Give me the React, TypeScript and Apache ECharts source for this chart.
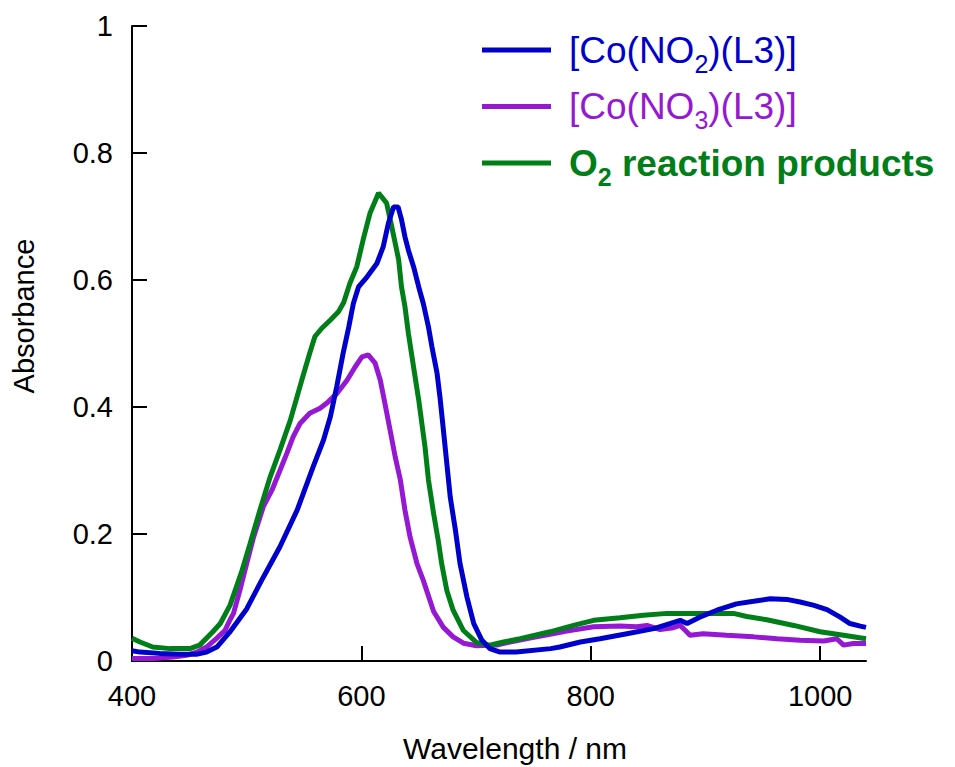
import React, { useEffect, useRef } from 'react';
import * as echarts from 'echarts';

const FONT = "'Liberation Sans', Arial, Helvetica, sans-serif";
const BLUE = '#0000CC';
const PURPLE = '#9519D3';
const GREEN = '#007F19';

const NAME_BLUE = '[Co(NO2)(L3)]';
const NAME_PURPLE = '[Co(NO3)(L3)]';
const NAME_GREEN = 'O2 reaction products';

const xTickValues = [400, 600, 800, 1000];
const yTickValues = [0, 0.2, 0.4, 0.6, 0.8, 1];

// [Co(NO2)(L3)]
const blueNm = [400, 407, 424, 442, 456, 465, 474, 485, 500, 514.5, 529, 544, 558, 567, 573, 578.5, 584, 589, 593, 597.5, 605, 613.5, 619, 623.5, 628, 632, 635, 638, 641, 645.5, 650, 654, 658.5, 661.5, 666, 668.5, 671.5, 674.5, 677.5, 682, 686, 692, 698, 705, 712, 721, 735, 765, 773, 791, 808, 831.5, 855, 869, 878, 884, 895, 910, 927, 942, 956.5, 971, 982.5, 994, 1006, 1017.5, 1026, 1035, 1040];
const blueAbs = [0.016, 0.014, 0.012, 0.0105, 0.0105, 0.014, 0.022, 0.045, 0.082, 0.132, 0.18, 0.2375, 0.306, 0.348, 0.385, 0.432, 0.484, 0.526, 0.563, 0.589, 0.605, 0.626, 0.652, 0.689, 0.715, 0.715, 0.695, 0.668, 0.647, 0.621, 0.589, 0.563, 0.526, 0.495, 0.453, 0.416, 0.364, 0.311, 0.258, 0.206, 0.1535, 0.101, 0.059, 0.033, 0.0195, 0.014, 0.014, 0.0195, 0.022, 0.03, 0.035, 0.043, 0.051, 0.059, 0.064, 0.059, 0.069, 0.08, 0.09, 0.094, 0.098, 0.097, 0.093, 0.088, 0.081, 0.069, 0.059, 0.055, 0.053];

// [Co(NO3)(L3)]
const purpleNm = [400, 418.5, 436, 447.5, 456.5, 465, 474, 481, 485.5, 488.5, 494, 500, 506, 514.5, 522, 529, 535, 540.5, 546.5, 555, 564, 571, 578.5, 587.5, 594.5, 600.5, 606, 612, 616.5, 620.5, 625, 629.5, 634, 638, 642.5, 648.5, 654, 663, 671.5, 680, 689, 700.5, 718, 729.5, 747, 764.5, 779, 802.5, 825.5, 840, 849, 860.5, 872, 878, 882.5, 886.5, 898, 918.5, 942, 962.5, 982.5, 1003, 1014.5, 1020.5, 1029, 1040];
const purpleAbs = [0.004, 0.004, 0.0063, 0.009, 0.014, 0.022, 0.036, 0.048, 0.065, 0.075, 0.111, 0.1535, 0.195, 0.243, 0.269, 0.3, 0.327, 0.353, 0.374, 0.39, 0.398, 0.408, 0.421, 0.442, 0.463, 0.479, 0.482, 0.469, 0.442, 0.406, 0.364, 0.3215, 0.285, 0.2375, 0.195, 0.1535, 0.127, 0.078, 0.053, 0.038, 0.028, 0.024, 0.025, 0.03, 0.036, 0.042, 0.047, 0.054, 0.055, 0.054, 0.056, 0.0495, 0.0525, 0.056, 0.048, 0.0405, 0.043, 0.0405, 0.038, 0.035, 0.0326, 0.0315, 0.035, 0.025, 0.0275, 0.0275];

// O2 reaction products
const greenNm = [400, 407, 418, 433, 450.5, 459, 470.5, 477, 485.5, 496, 503, 511.5, 520.5, 529, 538, 548, 555, 559.5, 565.5, 573, 580, 584.5, 590, 596, 601.5, 607.5, 615, 622, 626.5, 629.5, 632.5, 635, 638, 641, 645.5, 650, 655.5, 658.5, 663, 667, 670, 674.5, 680, 689, 700.5, 712, 724, 738.5, 764.5, 785, 802.5, 825.5, 846, 866.5, 898, 924.5, 936, 953.5, 977, 1000, 1020.5, 1040];
const greenAbs = [0.036, 0.03, 0.022, 0.0195, 0.0195, 0.025, 0.046, 0.059, 0.088, 0.143, 0.185, 0.2375, 0.29, 0.332, 0.379, 0.442, 0.485, 0.511, 0.524, 0.537, 0.55, 0.564, 0.595, 0.621, 0.663, 0.705, 0.737, 0.721, 0.684, 0.658, 0.632, 0.589, 0.558, 0.516, 0.463, 0.411, 0.337, 0.285, 0.232, 0.19, 0.1535, 0.111, 0.08, 0.048, 0.029, 0.025, 0.03, 0.035, 0.046, 0.056, 0.064, 0.068, 0.072, 0.075, 0.075, 0.075, 0.07, 0.065, 0.056, 0.046, 0.0405, 0.035];

const zip = (xs: number[], ys: number[]) => xs.map((x, i) => [x, ys[i]]);

const LF = 37;
const SF = 25;
const LH = 40;

export default function App() {
  const ref = useRef<HTMLDivElement>(null);

  useEffect(() => {
    if (!ref.current) return;
    const chart = echarts.init(ref.current, undefined, { renderer: 'svg' });
    const mk = (name: string, color: string, data: number[][]) => ({
      name,
      type: 'line',
      data,
      showSymbol: false,
      symbol: 'none',
      lineStyle: { width: 5, color },
      itemStyle: { color },
      clip: true,
    });
    const base = { fontFamily: FONT, lineHeight: LH };
    const sub = { fontFamily: FONT, fontSize: SF, lineHeight: 8, verticalAlign: 'top', padding: [21, 0, 0, 0] };
    chart.setOption({
      animation: false,
      backgroundColor: '#ffffff',
      grid: { left: 132, top: 26, right: 89, bottom: 106, containLabel: false },
      xAxis: {
        type: 'value',
        min: 400,
        max: 1040,
        interval: 200,
        axisLine: { show: true, onZero: false, lineStyle: { color: '#000', width: 2 } },
        axisTick: { show: true, inside: true, length: 15, customValues: xTickValues, lineStyle: { color: '#000', width: 2 } },
        axisLabel: {
          customValues: xTickValues,
          formatter: (v: number) => String(v),
          color: '#000',
          fontSize: 29,
          fontFamily: FONT,
          margin: 20,
        },
        splitLine: { show: false },
      },
      yAxis: {
        type: 'value',
        min: 0,
        max: 1,
        interval: 0.2,
        axisLine: { show: true, onZero: false, lineStyle: { color: '#000', width: 2 } },
        axisTick: { show: true, inside: true, length: 15, customValues: yTickValues, lineStyle: { color: '#000', width: 2 } },
        axisLabel: {
          customValues: yTickValues,
          formatter: (v: number) => String(v),
          color: '#000',
          fontSize: 29,
          fontFamily: FONT,
          margin: 19,
        },
        splitLine: { show: false },
      },
      legend: {
        show: true,
        orient: 'vertical',
        left: 482,
        top: 30,
        padding: 0,
        itemGap: 10.5,
        itemWidth: 69,
        itemHeight: 5,
        icon: 'rect',
        selectedMode: false,
        data: [NAME_BLUE, NAME_PURPLE, NAME_GREEN],
        formatter: (name: string) => {
          if (name === NAME_BLUE) return '{b0|[Co(NO}{bs|2}{b1|)(L3)]}';
          if (name === NAME_PURPLE) return '{p0|[Co(NO}{ps|3}{p1|)(L3)]}';
          return '{g0|O}{gs|2}{g1| reaction products}';
        },
        textStyle: {
          fontFamily: FONT,
          fontSize: LF,
          lineHeight: LH,
          rich: {
            b0: { ...base, color: BLUE, fontSize: LF, padding: [0, 0, 0, 13] },
            b1: { ...base, color: BLUE, fontSize: LF },
            bs: { ...sub, color: BLUE },
            p0: { ...base, color: PURPLE, fontSize: LF, padding: [0, 0, 0, 13] },
            p1: { ...base, color: PURPLE, fontSize: LF },
            ps: { ...sub, color: PURPLE },
            g0: { ...base, color: GREEN, fontSize: LF, fontWeight: 'bold', padding: [0, 0, 0, 13] },
            g1: { ...base, color: GREEN, fontSize: LF, fontWeight: 'bold' },
            gs: { ...sub, color: GREEN, fontWeight: 'bold' },
          },
        },
      },
      graphic: [
        {
          type: 'text',
          x: 24,
          y: 316,
          rotation: Math.PI / 2,
          style: { text: 'Absorbance', font: `29px ${FONT}`, fill: '#000', textAlign: 'center', textVerticalAlign: 'middle' },
        },
        {
          type: 'text',
          x: 515,
          y: 748,
          style: { text: 'Wavelength / nm', font: `30px ${FONT}`, fill: '#000', textAlign: 'center', textVerticalAlign: 'middle' },
        },
      ],
      series: [
        mk(NAME_PURPLE, PURPLE, zip(purpleNm, purpleAbs)),
        mk(NAME_GREEN, GREEN, zip(greenNm, greenAbs)),
        mk(NAME_BLUE, BLUE, zip(blueNm, blueAbs)),
      ],
    });
    return () => chart.dispose();
  }, []);

  return (
    <div
      ref={ref}
      style={{ position: 'fixed', left: 0, top: 0, width: 955, height: 767, background: '#fff' }}
    />
  );
}
